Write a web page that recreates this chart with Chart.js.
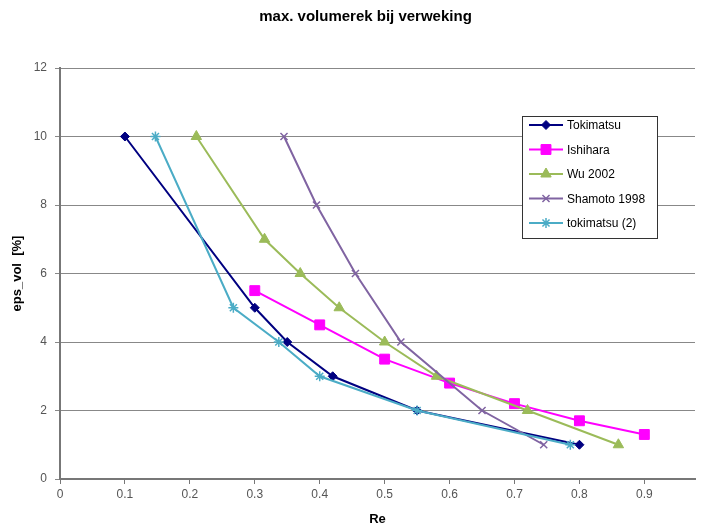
<!DOCTYPE html>
<html>
<head>
<meta charset="utf-8">
<script src="https://cdn.jsdelivr.net/npm/chart.js"></script>
<style>
  html, body { margin: 0; padding: 0; background: #fff; }
  #wrap { width: 703px; height: 532px; }
</style>
</head>
<body>
<div id="wrap"><canvas id="chart" width="703" height="532"></canvas></div>
<script>
const titleText = "max. volumerek bij verweking";
const xTitle = "Re";
const yTitle = "eps_vol  [%]";
const xTicks = [0, 0.1, 0.2, 0.3, 0.4, 0.5, 0.6, 0.7, 0.8, 0.9];

const seriesNames = ["Tokimatsu", "Ishihara", "Wu 2002", "Shamoto 1998", "tokimatsu (2)"];

const tokimatsuRe = [0.1, 0.3, 0.35, 0.42, 0.55, 0.8];
const tokimatsuEps = [10, 5, 4, 3, 2, 1];

const ishiharaRe = [0.3, 0.4, 0.5, 0.6, 0.7, 0.8, 0.9];
const ishiharaEps = [5.5, 4.5, 3.5, 2.8, 2.2, 1.7, 1.3];

const wuRe = [0.21, 0.315, 0.37, 0.43, 0.5, 0.58, 0.72, 0.86];
const wuEps = [10, 7, 6, 5, 4, 3, 2, 1];

const shamotoRe = [0.345, 0.395, 0.455, 0.525, 0.65, 0.745];
const shamotoEps = [10, 8, 6, 4, 2, 1];

const tokimatsu2Re = [0.147, 0.267, 0.337, 0.4, 0.55, 0.786];
const tokimatsu2Eps = [10, 5, 4, 3, 2, 1];

const colors = ["#000080", "#ff00ff", "#9bbb59", "#8064a2", "#4bacc6"];
const styles = ["rectRot", "rect", "triangle", "crossRot", "star"];
const radii = [4.5, 7, 6, 5, 5];

function toPoints(xs, ys) {
  return xs.map((x, i) => ({ x, y: ys[i] }));
}

const allData = [
  toPoints(tokimatsuRe, tokimatsuEps),
  toPoints(ishiharaRe, ishiharaEps),
  toPoints(wuRe, wuEps),
  toPoints(shamotoRe, shamotoEps),
  toPoints(tokimatsu2Re, tokimatsu2Eps),
];

const datasets = allData.map((data, i) => ({
  label: seriesNames[i],
  data,
  showLine: true,
  borderColor: colors[i],
  backgroundColor: colors[i],
  borderWidth: 2,
  pointStyle: styles[i],
  pointRadius: radii[i],
  pointBorderWidth: (styles[i] === "crossRot" || styles[i] === "star") ? 1.5 : 1,
  order: seriesNames.length - i,
}));

// legend box drawn inside the plot, like the Excel original
const boxLegend = {
  id: "boxLegend",
  afterLayout(chart) {
    // excel centres the title a bit right of the canvas middle
    if (chart.titleBlock) {
      chart.titleBlock.left += 14;
      chart.titleBlock.right += 14;
    }
  },
  afterDraw(chart) {
    const ctx = chart.ctx;
    const left = 522, top = 116, w = 135, h = 122;
    ctx.save();
    ctx.fillStyle = "#fff";
    ctx.fillRect(left, top, w, h);
    ctx.strokeStyle = "#333";
    ctx.lineWidth = 1;
    ctx.strokeRect(left + 0.5, top + 0.5, w, h);
    chart.data.datasets.forEach((ds, i) => {
      const y = 125 + i * 24.5;
      ctx.strokeStyle = ds.borderColor;
      ctx.lineWidth = 2;
      ctx.beginPath();
      ctx.moveTo(529, y);
      ctx.lineTo(563, y);
      ctx.stroke();
      ctx.fillStyle = ds.backgroundColor;
      ctx.lineWidth = ds.pointBorderWidth;
      Chart.helpers.drawPoint(ctx, {
        pointStyle: ds.pointStyle,
        radius: ds.pointRadius,
        rotation: 0,
        borderWidth: ds.pointBorderWidth,
      }, 546, y);
      ctx.fillStyle = "#000";
      ctx.font = "12px 'Liberation Sans', Arial, sans-serif";
      ctx.textBaseline = "middle";
      ctx.textAlign = "left";
      ctx.fillText(ds.label, 567, y + 1);
    });
    ctx.restore();
  },
};

const tickFont = { family: "'Liberation Sans', Arial, sans-serif", size: 12 };
const boldFont = { family: "'Liberation Sans', Arial, sans-serif", size: 13, weight: "bold" };

new Chart(document.getElementById("chart"), {
  type: "scatter",
  data: { datasets },
  plugins: [boxLegend],
  options: {
    responsive: false,
    animation: false,
    layout: { padding: { left: 0, right: 0, top: 0, bottom: 0 } },
    plugins: {
      legend: { display: false },
      tooltip: { enabled: false },
      title: {
        display: true,
        text: titleText,
        color: "#000",
        font: { family: "'Liberation Sans', Arial, sans-serif", size: 15, weight: "bold" },
        padding: { top: 8, bottom: 42 },
      },
    },
    scales: {
      x: {
        type: "linear",
        min: 0,
        max: 0.978,
        afterBuildTicks: (scale) => {
          scale.ticks = xTicks.map((v) => ({ value: v }));
        },
        afterFit: (scale) => {
          scale.height = 53;
        },
        ticks: { color: "#555", font: tickFont, padding: 3, maxRotation: 0 },
        grid: { drawOnChartArea: false, tickLength: 5, color: "#777" },
        border: { color: "#777", width: 2 },
        title: { display: true, text: xTitle, color: "#000", font: boldFont, padding: { top: 0, bottom: 5 } },
      },
      y: {
        type: "linear",
        min: 0,
        max: 12,
        ticks: { stepSize: 2, color: "#555", font: tickFont, padding: 8 },
        afterFit: (scale) => { scale.width = 60; },
        grid: { color: "#888", lineWidth: 1, tickLength: 5 },
        border: { color: "#777", width: 2 },
        title: { display: true, text: yTitle, color: "#000", font: boldFont, padding: { top: 10, bottom: 0 } },
      },
    },
  },
});
</script>
</body>
</html>
